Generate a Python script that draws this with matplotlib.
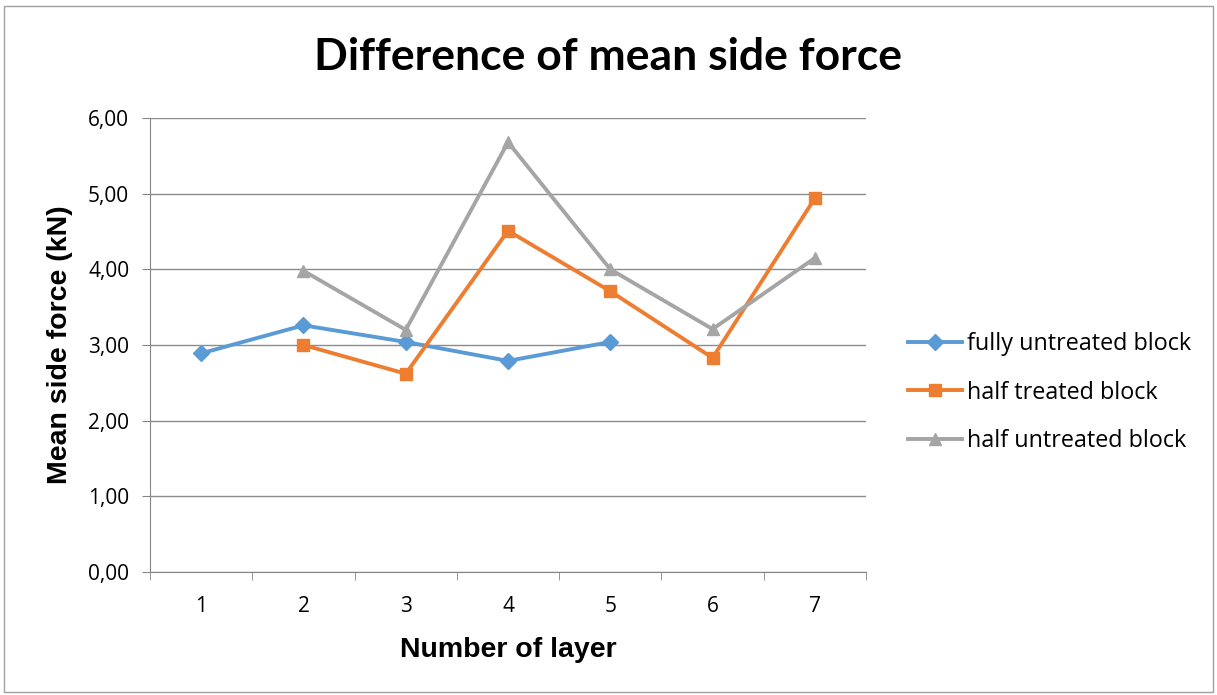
import matplotlib.pyplot as plt
from matplotlib.patches import Rectangle
import numpy as np

layers = [1, 2, 3, 4, 5, 6, 7]
fully_untreated = [2.89, 3.26, 3.04, 2.79, 3.04, None, None]
half_treated = [None, 3.00, 2.62, 4.51, 3.71, 2.83, 4.94]
half_untreated = [None, 3.98, 3.20, 5.68, 4.00, 3.21, 4.15]
y_ticks = [0, 1, 2, 3, 4, 5, 6]

series = [
    ("fully untreated block", fully_untreated, "#5B9BD5", "D", 8),
    ("half treated block", half_treated, "#ED7D31", "s", 9),
    ("half untreated block", half_untreated, "#A5A5A5", "^", 9),
]

fig = plt.figure(figsize=(12.17, 6.95), dpi=100)
ax = fig.add_axes([0.1233, 0.177, 0.5883, 0.6532])

for name, vals, color, marker, ms in series:
    x = [l for l, v in zip(layers, vals) if v is not None]
    y = [v for v in vals if v is not None]
    ax.plot(x, y, color=color, linewidth=2.8, marker=marker, markersize=ms,
            markeredgecolor=color, label=name)

ax.set_xlim(0.5, 7.5)
ax.set_ylim(0, 6)
ax.set_yticks(y_ticks)
ax.set_yticklabels([f"{t:.2f}".replace(".", ",") for t in y_ticks])
ax.set_xticks(layers)
ax.set_xticks(np.arange(0.5, 8, 1), minor=True)
ax.tick_params(axis="x", which="major", length=0, pad=17)
ax.tick_params(axis="x", which="minor", length=6, color="#868686", direction="out")
ax.tick_params(axis="y", length=6, color="#868686", direction="out", pad=9)
for lab in ax.get_xticklabels() + ax.get_yticklabels():
    lab.set_fontsize(15)
    lab.set_family("Open Sans")

ax.grid(axis="y", color="#8C8C8C", linewidth=1)
ax.set_axisbelow(True)
for s in ["top", "right"]:
    ax.spines[s].set_visible(False)
ax.spines["left"].set_color("#868686")
ax.spines["bottom"].set_color("#868686")

ax.set_xlabel("Number of layer", fontsize=20.5, fontweight="bold",
              family="Liberation Sans", labelpad=15)
ax.set_ylabel("Mean side force (kN)", fontsize=20.5, fontweight="bold",
              family="Liberation Sans", labelpad=11)
fig.text(0.5, 0.918, "Difference of mean side force", ha="center", va="center",
         fontsize=32, fontweight="bold", family="Lato")

ax.legend(loc="center left", bbox_to_anchor=(1.03, 0.395), frameon=False,
          prop={"family": "Open Sans", "size": 16.8}, handlelength=2.3,
          labelspacing=1.05, handletextpad=0.2)

fig.patches.append(Rectangle((0.0035, 0.004), 0.993, 0.988, transform=fig.transFigure,
                             fill=False, edgecolor="#A0A0A0", linewidth=1))

fig.savefig("out.png", dpi=100)
